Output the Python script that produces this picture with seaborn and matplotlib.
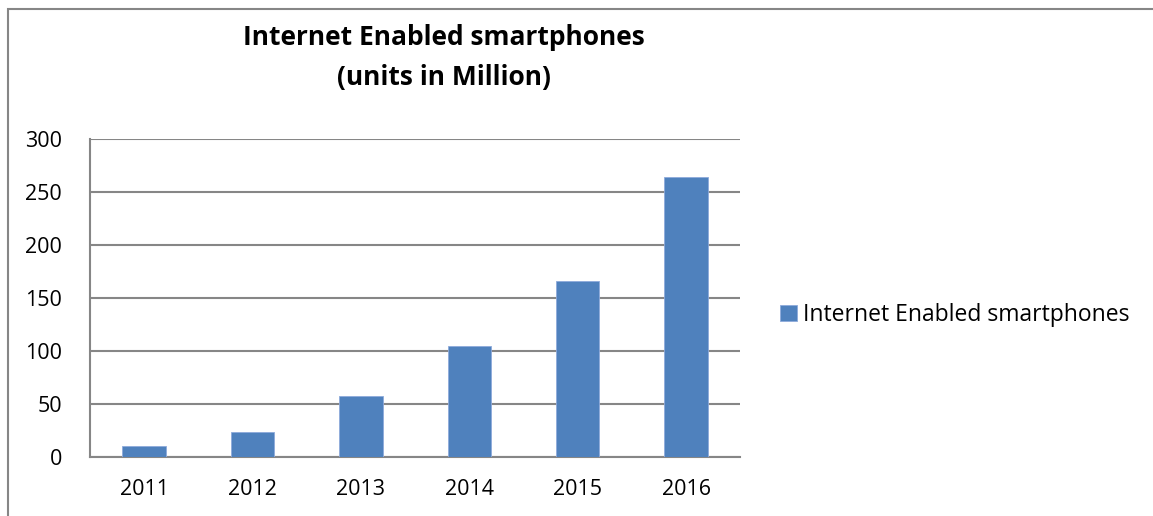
import numpy as np
import pandas as pd
import matplotlib
matplotlib.use("Agg")
import matplotlib.pyplot as plt
from matplotlib.patches import Rectangle
import seaborn as sns

# Data
years = ["2011", "2012", "2013", "2014", "2015", "2016"]
units = [10, 24, 58, 105, 166, 264]
series_name = "Internet Enabled smartphones"

df = pd.DataFrame({"Year": years, "Units": units})

sns.set_style("white")
plt.rcParams["font.family"] = ["Open Sans", "DejaVu Sans"]
plt.rcParams["text.color"] = "black"
plt.rcParams["xtick.color"] = "black"
plt.rcParams["ytick.color"] = "black"

grey = "#868686"
bar_color = "#4F81BD"

fig = plt.figure(figsize=(11.53, 5.16), dpi=100)
ax = fig.add_axes([0.078, 0.1143, 0.564, 0.6163])

sns.barplot(data=df, x="Year", y="Units", color=bar_color, width=0.4,
            saturation=1, label=series_name, edgecolor="#8EAADB", linewidth=0.6,
            ax=ax, zorder=3)

# axes styling (Excel-like)
ax.set_ylim(0, 300)
ax.set_yticks(np.arange(0, 301, 50))
ax.set_xlim(-0.5, len(years) - 0.5)
ax.set_xticks(np.arange(-0.5, len(years), 1.0))
ax.set_xticklabels([])
ax.set_xticks(np.arange(len(years)), minor=True)
ax.set_xticklabels(years, minor=True)
ax.tick_params(axis="x", which="major", direction="out", length=6, width=1.5, color=grey)
ax.tick_params(axis="x", which="minor", length=0, pad=16, labelsize=15.5, labelcolor="black")
ax.tick_params(axis="y", direction="out", length=6, width=1.5, color=grey, pad=14,
               labelsize=15.5, labelcolor="black")
ax.yaxis.grid(True, color=grey, linewidth=1.5, zorder=0)
ax.set_axisbelow(True)
for side in ["top", "right"]:
    ax.spines[side].set_visible(False)
for side in ["left", "bottom"]:
    ax.spines[side].set_color(grey)
    ax.spines[side].set_linewidth(1.5)
ax.set_xlabel("")
ax.set_ylabel("")

# title
fig.text(0.385, 0.928, "Internet Enabled smartphones", ha="center", va="center",
         fontsize=19, fontweight="bold", color="black")
fig.text(0.385, 0.85, "(units in Million)", ha="center", va="center",
         fontsize=19, fontweight="bold", color="black")

# legend to the right
leg = ax.legend(loc="center left", bbox_to_anchor=(0.6765, 0.39), bbox_transform=fig.transFigure,
                frameon=False, fontsize=16.5, handlelength=0.72, handleheight=0.72,
                handletextpad=0.3, borderaxespad=0, borderpad=0)
for t in leg.get_texts():
    t.set_color("black")

# chart area border
fig.patches.append(Rectangle((8 / 1153, -0.1), 1.2, 1 - 9 / 516 + 0.1,
                             transform=fig.transFigure, fill=False,
                             edgecolor=grey, linewidth=1.5))

fig.savefig("out.png", dpi=100)
